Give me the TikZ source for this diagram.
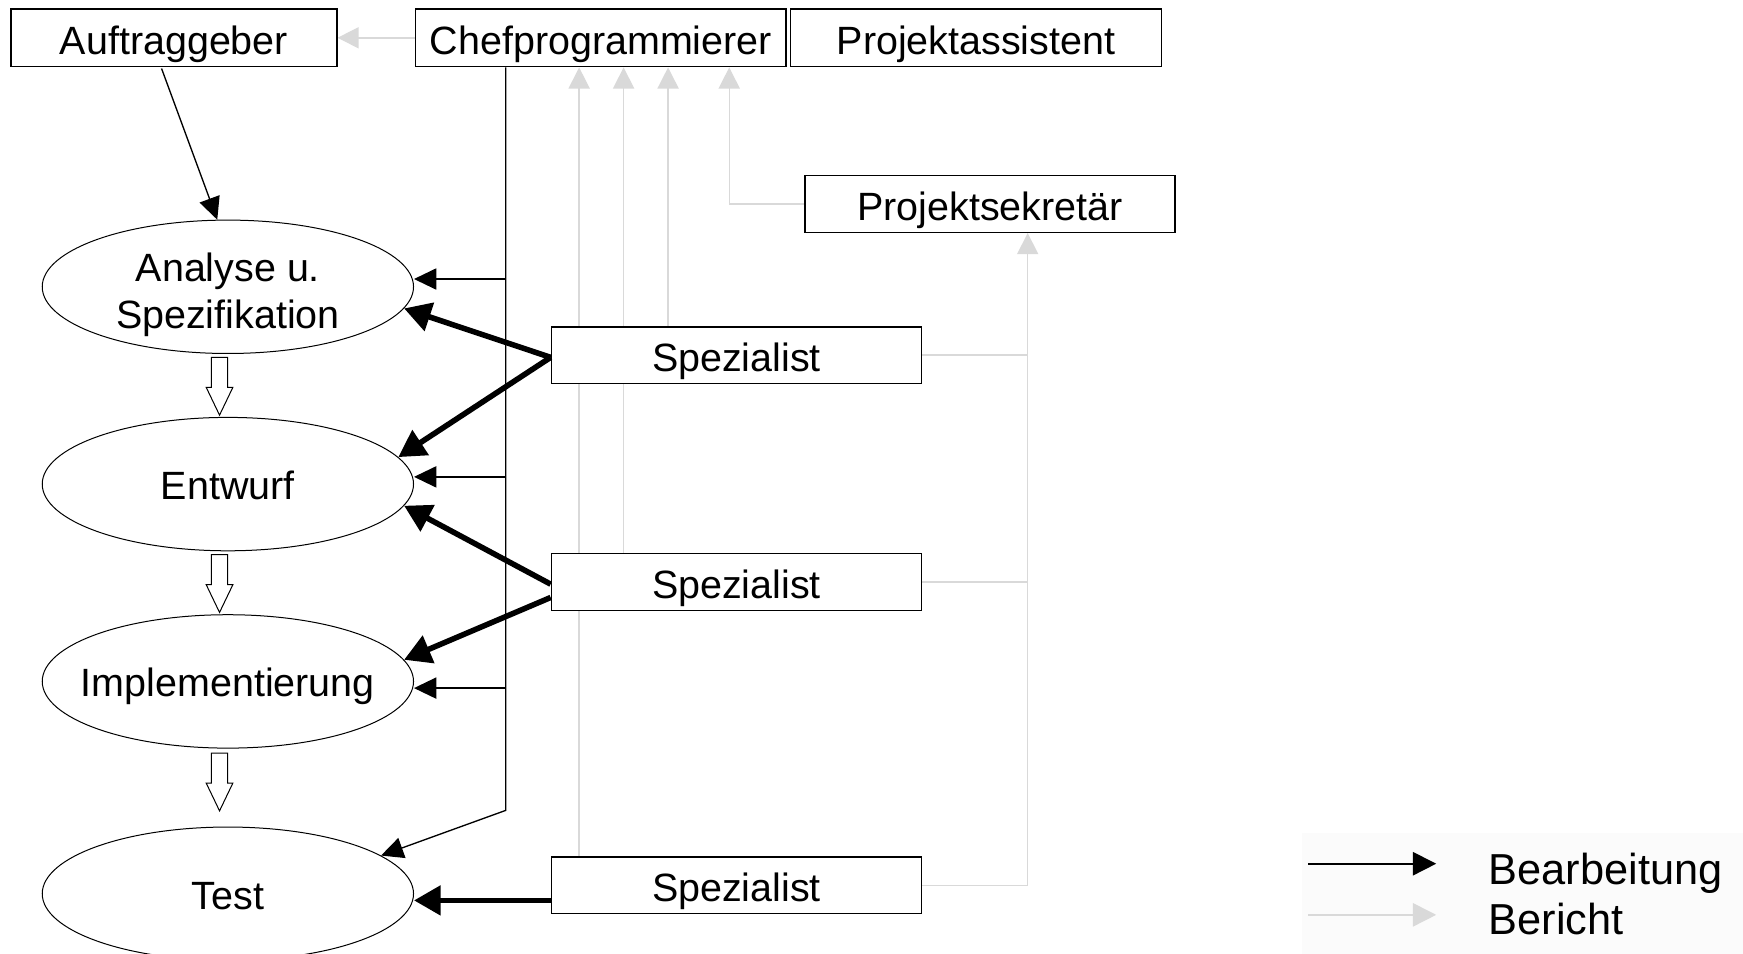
\documentclass[tikz,border=0pt]{standalone}
\usepackage{fontspec}
\setmainfont{Liberation Sans}
\usetikzlibrary{arrows.meta,shapes.geometric,backgrounds}
\begin{document}
\begin{tikzpicture}[x=1pt,y=-1pt,
  every node/.style={font=\fontsize{35.5}{42.6}\selectfont},
  box/.style={draw, line width=1.3pt, fill=white, inner sep=0pt,
    text height=29.4pt, text depth=0pt,
    minimum height=51pt, minimum width=333pt},
  phase/.style={draw, ellipse, line width=0.9pt, fill=white, inner sep=0pt,
    inner xsep=-60pt, text height=28pt, text depth=0pt,
    minimum width=334pt, minimum height=120pt},
  bearb/.style={draw=black, line width=1.2pt, -{Triangle[length=20pt,width=19pt]}},
  bearbthick/.style={draw=black, line width=5pt, -{Triangle[length=24pt,width=26pt]}},
  bericht/.style={draw=gray!30, line width=1.3pt, -{Triangle[length=19pt,width=19pt]}},
  berichtline/.style={draw=gray!30, line width=1.3pt},
  legendtext/.style={anchor=base west, inner sep=0pt, font=\fontsize{39}{45}\selectfont},
  flowarrow/.pic={\draw[line width=0.9pt, fill=white]
    (-7.25,0) -- (-7.25,27) -- (-12,27) -- (0,52) -- (12,27) -- (7.25,27) -- (7.25,0) -- cycle;}
]
\useasboundingbox (0,0) rectangle (1568,858);
\clip (0,0) rectangle (1568,858);

% roles
\node[box, minimum width=293pt, minimum height=52pt] (auf) at (156.5,34) {Auftraggeber};
\node[box, minimum height=52pt] (chef) at (540.5,34) {Chefprogrammierer};
\node[box, minimum width=334pt, minimum height=52pt] (assi) at (878,34) {Projektassistent};
\node[box] (psek) at (890.5,183.5) {Projektsekretär};
\node[box] (sp1) at (662.5,319.5) {Spezialist};
\node[box] (sp2) at (662.5,523.5) {Spezialist};
\node[box] (sp3) at (662.5,796.5) {Spezialist};

% phases
\node[phase, text height=75pt] (ana) at (205,258)
  {\begin{tabular}[b]{@{}c@{}}Analyse u.\\Spezifikation\end{tabular}};
\node[phase] (ent) at (205,435.5) {Entwurf};
\node[phase] (imp) at (205,613) {Implementierung};
\node[phase] (test) at (205,804) {Test};

% phase sequence
\pic at ([xshift=-7.5pt,yshift=-3pt]ana.south) {flowarrow};
\pic at ([xshift=-7.5pt,yshift=-3pt]ent.south) {flowarrow};
\pic at ([xshift=-7.5pt,yshift=-4pt]imp.south) {flowarrow};

% reporting lines (behind the boxes)
\coordinate (g1) at (521,0);
\coordinate (g2) at (561,0);
\coordinate (g3) at (601,0);
\coordinate (g4) at (656,0);
\coordinate (g5) at (924.5,0);
\begin{scope}[on background layer]
  \fill[gray!3] (1171,749) rectangle (1568,858);
  \draw[bericht] (chef.west) -- (auf.east);
  \draw[bericht] (sp3.north -| g1) -- (chef.south -| g1);
  \draw[bericht] (sp2.north -| g2) -- (chef.south -| g2);
  \draw[bericht] (sp1.north -| g3) -- (chef.south -| g3);
  \draw[bericht] (psek.west) -| (chef.south -| g4);
  \draw[bericht] (sp3.east) -| (psek.south -| g5);
  \draw[berichtline] (sp1.east) -- (sp1.east -| g5);
  \draw[berichtline] (sp2.east) -- (sp2.east -| g5);
\end{scope}

% work assignments
\draw[bearb] (auf.south west) ++(136,1) coordinate (aufout) -- (ana.99);
\coordinate (c0) at (455,0);
\coordinate (ba) at (455,251);
\coordinate (be) at (455,429);
\coordinate (bi) at (455,619);
\coordinate (bt) at (455,729);
\draw[bearb] (chef.south -| c0) -- (bt) -- (test.14);
\draw[bearb] (ba) -- (ba -| ana.east);
\draw[bearb] (be) -- (be -| ent.east);
\draw[bearb] (bi) -- (bi -| imp.east);

\draw[bearbthick] ([yshift=-2pt]sp1.west) -- (ana.-7);
\draw[bearbthick] ([yshift=-2pt]sp1.west) -- (ent.9);
\draw[bearbthick] ([yshift=-2pt]sp2.west) -- (ent.-7);
\draw[bearbthick] ([yshift=-14pt]sp2.west) -- (imp.7);
\draw[bearbthick] ([yshift=-13.5pt]sp3.west) coordinate (s3out) -- (s3out -| test.east);

% legend
\coordinate (l1a) at (1177,777);
\coordinate (l1b) at (1292,777);
\coordinate (l2a) at (1177,823);
\coordinate (l2b) at (1292,823);
\draw[draw=black, line width=1.5pt, -{Triangle[length=21pt,width=21pt]}] (l1a) -- (l1b);
\draw[draw=gray!30, line width=1.5pt, -{Triangle[length=21pt,width=21pt]}] (l2a) -- (l2b);
\node[legendtext] (lbe) at (1339,796) {Bearbeitung};
\node[legendtext] (lbr) at (1339,841) {Bericht};
\end{tikzpicture}
\end{document}
